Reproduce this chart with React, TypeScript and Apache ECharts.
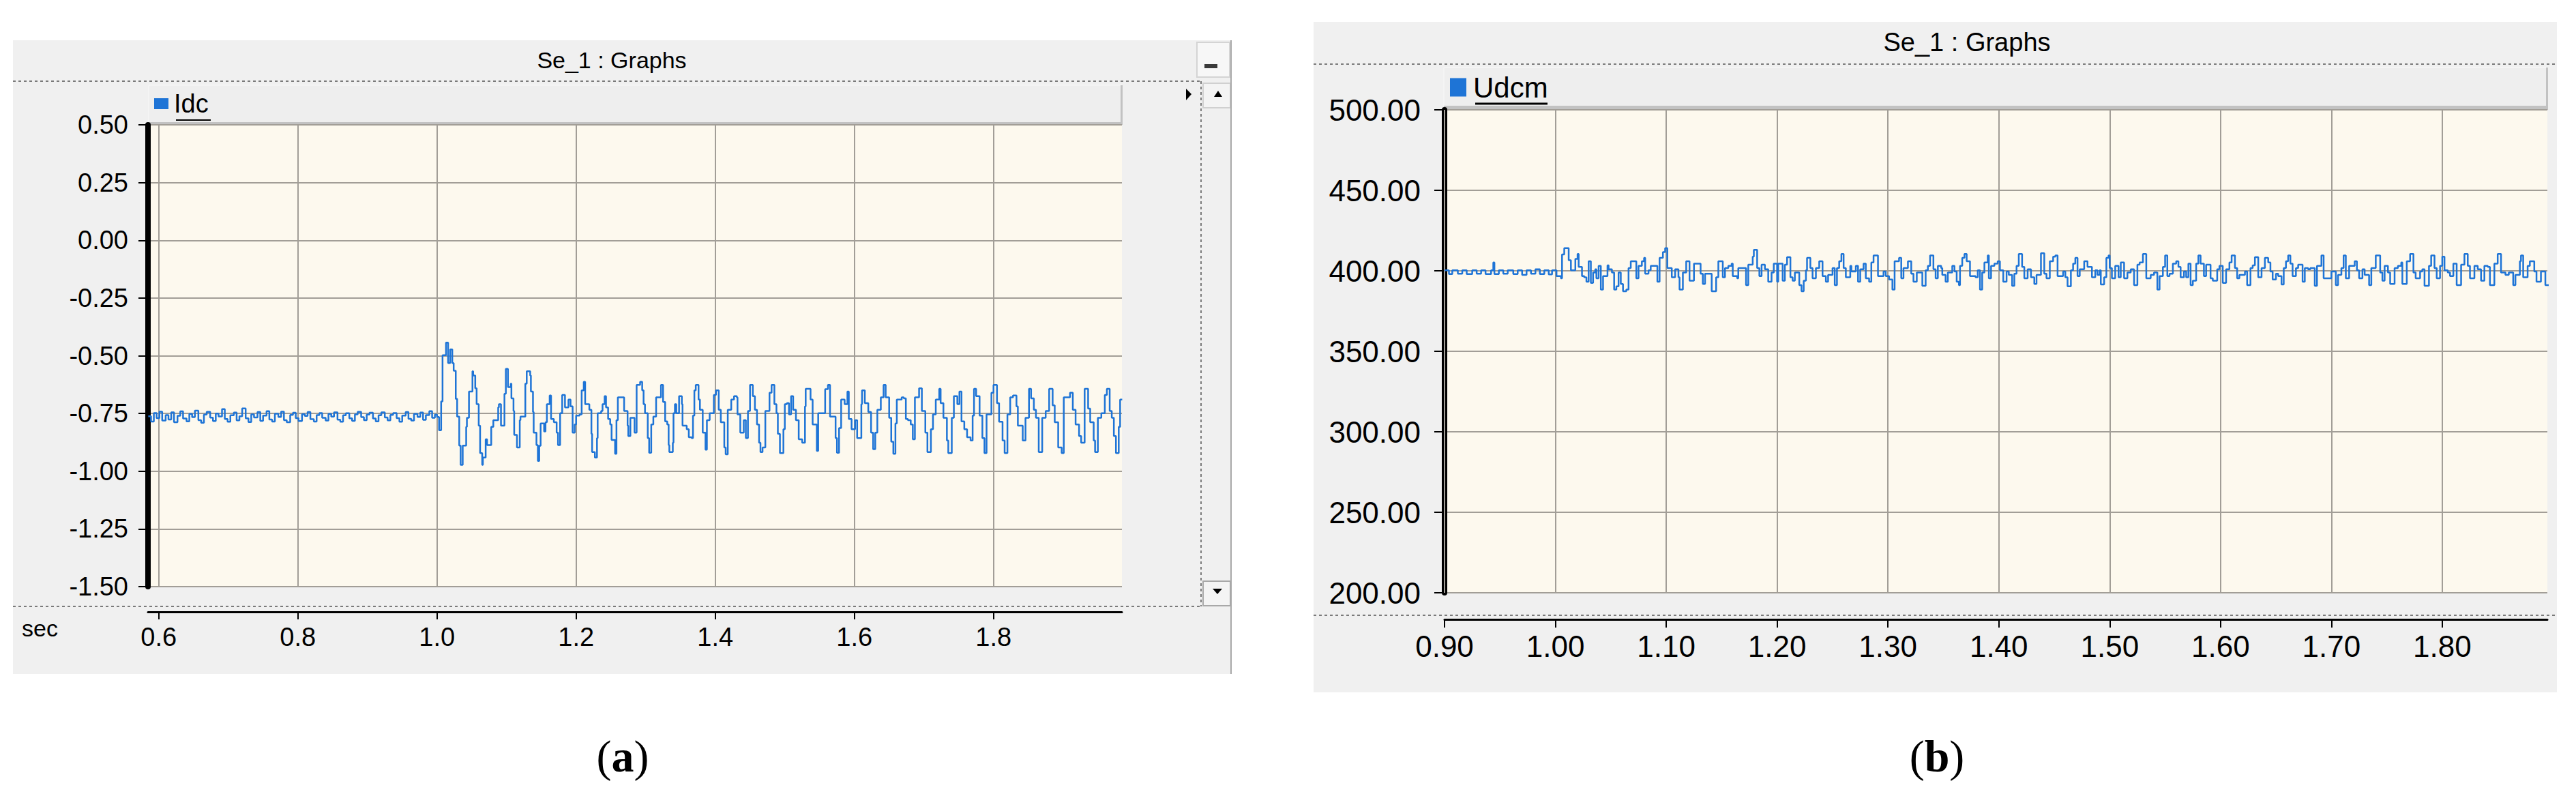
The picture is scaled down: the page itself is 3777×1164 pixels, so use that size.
import React, { useEffect, useRef } from "react";
import * as echarts from "echarts";

const FONT = "'Liberation Sans', Arial, sans-serif";
const SERIF = "'Liberation Serif', 'Times New Roman', serif";

const idcTicks = [0.6, 0.8, 1.0, 1.2, 1.4, 1.6, 1.8];
const udcmTicks = [0.9, 1.0, 1.1, 1.2, 1.3, 1.4, 1.5, 1.6, 1.7, 1.8];
const idcTimeRange = [0.5846, 1.9846];
const udcmTimeRange = [0.9, 1.8948];
const idcValueRange = [-1.5, 0.5];
const udcmValueRange = [200, 500];
const idcStep = 0.25;
const udcmStep = 50;

const idcData: [number, number][] = [
  [0.585, -0.762], [0.589, -0.785], [0.593, -0.748], [0.597, -0.77], [0.601, -0.742], [0.605, -0.781],
  [0.61, -0.757], [0.614, -0.776], [0.618, -0.745], [0.622, -0.788], [0.627, -0.76], [0.631, -0.741],
  [0.635, -0.772], [0.64, -0.784], [0.644, -0.752], [0.648, -0.766], [0.652, -0.738], [0.657, -0.779],
  [0.661, -0.79], [0.665, -0.755], [0.669, -0.743], [0.674, -0.768], [0.678, -0.783], [0.682, -0.75],
  [0.686, -0.763], [0.691, -0.731], [0.695, -0.774], [0.699, -0.786], [0.703, -0.758], [0.708, -0.746],
  [0.712, -0.78], [0.716, -0.762], [0.72, -0.728], [0.725, -0.771], [0.729, -0.787], [0.733, -0.754],
  [0.737, -0.767], [0.742, -0.744], [0.746, -0.782], [0.75, -0.759], [0.755, -0.74], [0.759, -0.776],
  [0.763, -0.785], [0.767, -0.751], [0.772, -0.765], [0.776, -0.742], [0.78, -0.779], [0.784, -0.788],
  [0.789, -0.756], [0.793, -0.747], [0.797, -0.77], [0.801, -0.783], [0.806, -0.753], [0.81, -0.761],
  [0.814, -0.744], [0.818, -0.775], [0.823, -0.785], [0.827, -0.757], [0.831, -0.748], [0.835, -0.769],
  [0.84, -0.781], [0.844, -0.752], [0.848, -0.764], [0.852, -0.745], [0.857, -0.777], [0.861, -0.786],
  [0.865, -0.758], [0.869, -0.749], [0.874, -0.771], [0.878, -0.782], [0.882, -0.754], [0.886, -0.743],
  [0.891, -0.766], [0.895, -0.779], [0.899, -0.755], [0.903, -0.747], [0.908, -0.772], [0.912, -0.784],
  [0.916, -0.758], [0.92, -0.745], [0.925, -0.767], [0.929, -0.78], [0.933, -0.756], [0.937, -0.748],
  [0.942, -0.77], [0.946, -0.786], [0.95, -0.759], [0.955, -0.744], [0.959, -0.773], [0.963, -0.781],
  [0.967, -0.752], [0.972, -0.765], [0.976, -0.746], [0.98, -0.778], [0.984, -0.757], [0.989, -0.74],
  [0.993, -0.769], [0.997, -0.755], [1.0, -0.765],
  [1.003, -0.823], [1.006, -0.698], [1.008, -0.498], [1.013, -0.443], [1.016, -0.532], [1.019, -0.473],
  [1.022, -0.532], [1.024, -0.565], [1.027, -0.687], [1.029, -0.764], [1.032, -0.889], [1.034, -0.973],
  [1.037, -0.889], [1.042, -0.808], [1.043, -0.769], [1.046, -0.655], [1.051, -0.567], [1.052, -0.586],
  [1.055, -0.641], [1.057, -0.71], [1.06, -0.803], [1.062, -0.922], [1.065, -0.973], [1.066, -0.941],
  [1.07, -0.862], [1.072, -0.887], [1.078, -0.808], [1.081, -0.779], [1.088, -0.724], [1.089, -0.71],
  [1.092, -0.803], [1.097, -0.665], [1.099, -0.557], [1.102, -0.636], [1.106, -0.621], [1.107, -0.685],
  [1.11, -0.739], [1.111, -0.843], [1.115, -0.897], [1.119, -0.779], [1.12, -0.764], [1.127, -0.621],
  [1.129, -0.567], [1.134, -0.586], [1.135, -0.655], [1.138, -0.744], [1.139, -0.833], [1.143, -0.887],
  [1.145, -0.956], [1.147, -0.89], [1.149, -0.793], [1.154, -0.828], [1.156, -0.788], [1.158, -0.71],
  [1.162, -0.672], [1.164, -0.774], [1.168, -0.788], [1.172, -0.833], [1.174, -0.887], [1.177, -0.749],
  [1.18, -0.67], [1.184, -0.724], [1.189, -0.69], [1.192, -0.719], [1.195, -0.833], [1.198, -0.798],
  [1.2, -0.759], [1.205, -0.754], [1.208, -0.65], [1.211, -0.613], [1.213, -0.71], [1.219, -0.734],
  [1.222, -0.838], [1.223, -0.917], [1.227, -0.941], [1.23, -0.857], [1.231, -0.749], [1.236, -0.739],
  [1.238, -0.71], [1.241, -0.675], [1.243, -0.724], [1.246, -0.774], [1.249, -0.798], [1.251, -0.865],
  [1.256, -0.925], [1.258, -0.779], [1.26, -0.68], [1.266, -0.68], [1.269, -0.739], [1.274, -0.803],
  [1.275, -0.848], [1.278, -0.769], [1.284, -0.833], [1.287, -0.626], [1.292, -0.613], [1.295, -0.65],
  [1.297, -0.71], [1.299, -0.749], [1.303, -0.857], [1.305, -0.92], [1.308, -0.798], [1.311, -0.764],
  [1.315, -0.68], [1.322, -0.626], [1.325, -0.7], [1.328, -0.784], [1.331, -0.798], [1.333, -0.887],
  [1.334, -0.917], [1.339, -0.877], [1.34, -0.749], [1.342, -0.71], [1.344, -0.749], [1.348, -0.675],
  [1.352, -0.71], [1.353, -0.803], [1.359, -0.818], [1.362, -0.853], [1.366, -0.857], [1.368, -0.759],
  [1.37, -0.65], [1.372, -0.626], [1.376, -0.69], [1.378, -0.734], [1.382, -0.833], [1.386, -0.907],
  [1.388, -0.779], [1.392, -0.749], [1.398, -0.67], [1.401, -0.65], [1.405, -0.734], [1.408, -0.788],
  [1.413, -0.897], [1.415, -0.927], [1.418, -0.734], [1.423, -0.69], [1.427, -0.675], [1.431, -0.68],
  [1.432, -0.754], [1.436, -0.833], [1.441, -0.779], [1.444, -0.857], [1.447, -0.739], [1.45, -0.626],
  [1.454, -0.675], [1.457, -0.734], [1.46, -0.798], [1.463, -0.877], [1.465, -0.917], [1.468, -0.897],
  [1.472, -0.739], [1.478, -0.66], [1.481, -0.626], [1.485, -0.71], [1.488, -0.749],
  [1.49, -0.838], [1.493, -0.922], [1.498, -0.818], [1.5, -0.71], [1.503, -0.705], [1.506, -0.754],
  [1.509, -0.675], [1.512, -0.734], [1.516, -0.779], [1.52, -0.862], [1.525, -0.877], [1.529, -0.719],
  [1.53, -0.643], [1.535, -0.643], [1.537, -0.69], [1.54, -0.798], [1.543, -0.798], [1.546, -0.912],
  [1.548, -0.749], [1.553, -0.749], [1.558, -0.645], [1.562, -0.626], [1.565, -0.764], [1.571, -0.764],
  [1.573, -0.857], [1.575, -0.92], [1.578, -0.813], [1.581, -0.69], [1.586, -0.71], [1.59, -0.655],
  [1.592, -0.774], [1.596, -0.818], [1.601, -0.779], [1.604, -0.857], [1.609, -0.857], [1.61, -0.71],
  [1.611, -0.65], [1.615, -0.705], [1.62, -0.744], [1.624, -0.833], [1.627, -0.905], [1.63, -0.833],
  [1.633, -0.734], [1.638, -0.68], [1.642, -0.626], [1.645, -0.68], [1.65, -0.769], [1.653, -0.872],
  [1.656, -0.925], [1.659, -0.793], [1.661, -0.69], [1.668, -0.68], [1.671, -0.685], [1.674, -0.774],
  [1.677, -0.779], [1.681, -0.798], [1.684, -0.862], [1.687, -0.68], [1.693, -0.641], [1.697, -0.739],
  [1.702, -0.833], [1.705, -0.917], [1.71, -0.818], [1.713, -0.754], [1.717, -0.69], [1.722, -0.643],
  [1.724, -0.705], [1.728, -0.769], [1.733, -0.867], [1.735, -0.922], [1.74, -0.769], [1.743, -0.675],
  [1.748, -0.71], [1.751, -0.655], [1.754, -0.784], [1.758, -0.818], [1.762, -0.853], [1.767, -0.867],
  [1.77, -0.759], [1.772, -0.643], [1.775, -0.675], [1.78, -0.759], [1.784, -0.857], [1.787, -0.922],
  [1.79, -0.754], [1.797, -0.66], [1.8, -0.626], [1.805, -0.705], [1.808, -0.786], [1.813, -0.867],
  [1.816, -0.922], [1.82, -0.754], [1.824, -0.68], [1.828, -0.672], [1.833, -0.719], [1.835, -0.803],
  [1.842, -0.867], [1.846, -0.769], [1.851, -0.643], [1.854, -0.685], [1.858, -0.734], [1.861, -0.769],
  [1.865, -0.917], [1.87, -0.769], [1.875, -0.739], [1.88, -0.643], [1.885, -0.715], [1.888, -0.788],
  [1.893, -0.897], [1.898, -0.922], [1.901, -0.68], [1.906, -0.68], [1.91, -0.66], [1.914, -0.734],
  [1.918, -0.798], [1.923, -0.848], [1.926, -0.877], [1.931, -0.643], [1.936, -0.729], [1.939, -0.788],
  [1.944, -0.867], [1.946, -0.917], [1.95, -0.769], [1.955, -0.749], [1.96, -0.67], [1.963, -0.643],
  [1.967, -0.739], [1.97, -0.769], [1.973, -0.848], [1.976, -0.922], [1.98, -0.808], [1.982, -0.69],
  [1.985, -0.69],
];

const udcmData: [number, number][] = [
  [0.9, 400.3], [0.904, 398.0], [0.907, 400.3], [0.912, 398.2], [0.916, 400.3], [0.92, 398.0],
  [0.925, 400.3], [0.929, 398.2], [0.933, 400.3], [0.937, 398.0], [0.942, 400.3], [0.944, 405.2],
  [0.945, 398.0], [0.949, 400.3], [0.953, 398.2], [0.957, 400.3], [0.962, 398.0], [0.966, 400.3],
  [0.97, 397.5], [0.974, 400.3], [0.978, 398.2], [0.982, 401.0], [0.986, 398.0], [0.99, 400.3],
  [0.994, 397.8], [0.997, 400.3],
  [1.001, 396.7], [1.005, 395.3], [1.006, 410.2], [1.008, 414.1], [1.012, 406.6], [1.014, 400.3],
  [1.018, 407.4], [1.02, 410.5], [1.021, 402.4], [1.024, 396.7], [1.026, 396.0], [1.028, 393.2],
  [1.03, 405.9], [1.032, 392.5], [1.034, 398.9], [1.036, 401.0], [1.037, 395.3], [1.039, 403.1],
  [1.041, 388.3], [1.043, 396.7], [1.047, 403.4], [1.048, 401.0], [1.051, 398.9], [1.053, 388.3],
  [1.055, 390.4], [1.057, 398.9], [1.059, 391.8], [1.061, 387.3], [1.064, 388.3], [1.066, 401.7],
  [1.068, 405.9], [1.073, 395.3], [1.075, 403.1], [1.078, 405.9], [1.08, 408.1], [1.081, 398.2],
  [1.084, 400.3], [1.086, 403.1], [1.092, 393.2], [1.094, 408.1], [1.097, 411.6], [1.099, 414.1],
  [1.101, 401.7], [1.105, 396.0], [1.108, 401.0], [1.111, 396.0], [1.112, 388.3], [1.115, 398.9],
  [1.118, 405.9], [1.121, 393.9], [1.125, 404.5], [1.131, 398.2], [1.133, 391.8], [1.135, 398.2],
  [1.141, 387.3], [1.145, 396.0], [1.147, 405.9], [1.151, 396.0], [1.153, 401.7], [1.156, 403.1],
  [1.159, 404.5], [1.16, 396.7], [1.164, 395.3], [1.165, 401.7], [1.172, 391.1], [1.174, 403.8],
  [1.178, 408.8], [1.179, 413.0], [1.182, 401.7], [1.184, 396.7], [1.186, 403.8], [1.189, 401.0],
  [1.192, 393.2], [1.195, 398.9], [1.197, 404.5], [1.2, 393.2], [1.201, 404.5], [1.205, 393.9],
  [1.207, 403.8], [1.209, 408.5], [1.212, 396.0],
  [1.214, 393.9], [1.216, 398.9], [1.22, 391.1], [1.222, 387.3], [1.224, 393.9], [1.226, 400.3],
  [1.227, 408.1], [1.23, 401.7], [1.232, 395.3], [1.235, 401.7], [1.238, 405.9], [1.241, 396.7],
  [1.244, 393.2], [1.246, 397.5], [1.25, 401.7], [1.252, 391.1], [1.254, 401.7], [1.256, 405.9],
  [1.258, 410.5], [1.26, 401.7], [1.262, 396.0], [1.266, 403.1], [1.267, 399.6], [1.271, 403.1],
  [1.273, 393.2], [1.275, 401.0], [1.278, 404.5], [1.28, 395.3], [1.283, 393.2], [1.285, 405.2],
  [1.287, 409.5], [1.291, 396.7], [1.296, 399.6], [1.298, 396.7], [1.301, 394.6], [1.304, 388.3],
  [1.306, 405.9], [1.31, 408.1], [1.312, 395.3], [1.314, 401.7], [1.318, 405.9], [1.321, 398.2],
  [1.323, 393.2], [1.326, 398.9], [1.331, 390.7], [1.334, 400.3], [1.336, 403.1], [1.338, 409.5],
  [1.341, 401.0], [1.343, 395.3], [1.345, 403.1], [1.348, 401.7], [1.349, 397.5], [1.352, 393.2],
  [1.354, 398.9], [1.358, 403.1], [1.36, 399.6], [1.362, 393.2], [1.364, 391.1], [1.365, 403.1],
  [1.367, 408.1], [1.369, 410.5], [1.371, 405.9], [1.374, 396.7], [1.379, 396.0], [1.381, 400.3],
  [1.383, 388.3], [1.385, 398.9], [1.387, 405.2], [1.39, 409.5], [1.391, 395.3], [1.393, 403.1],
  [1.396, 404.5], [1.399, 405.9], [1.401, 400.3], [1.404, 393.2], [1.407, 399.6], [1.409, 397.5],
  [1.412, 390.7], [1.414, 398.2], [1.416, 403.1], [1.418, 410.5], [1.421, 402.4], [1.423, 395.3],
  [1.426, 401.0], [1.429, 396.0], [1.432, 391.8], [1.434, 397.5], [1.438, 410.9], [1.441, 398.2],
  [1.443, 395.3], [1.446, 405.9], [1.449, 408.8], [1.451, 409.5], [1.453, 396.7], [1.458, 399.6],
  [1.46, 396.0], [1.462, 390.4], [1.465, 400.3], [1.467, 404.5], [1.469, 408.1], [1.471, 396.7],
  [1.473, 401.0], [1.477, 405.9], [1.48, 402.4], [1.484, 396.0], [1.487, 400.3], [1.489, 397.5],
  [1.491, 400.3], [1.492, 391.5], [1.495, 396.0], [1.497, 408.1], [1.499, 409.5], [1.5, 401.7],
  [1.502, 395.3], [1.505, 403.1], [1.508, 396.0], [1.51, 405.2], [1.513, 395.3], [1.516, 398.9],
  [1.519, 401.0], [1.522, 391.1], [1.525, 403.8], [1.527, 405.2], [1.53, 410.5],
  [1.533, 395.3], [1.537, 397.5], [1.54, 398.9], [1.543, 388.3], [1.545, 396.7], [1.548, 402.4],
  [1.55, 409.5], [1.552, 396.7], [1.554, 398.2], [1.557, 404.5], [1.56, 405.9], [1.562, 402.4],
  [1.564, 396.0], [1.567, 399.6], [1.569, 396.0], [1.571, 404.5], [1.573, 391.1], [1.575, 393.9],
  [1.578, 404.5], [1.58, 409.5], [1.582, 404.5], [1.585, 396.7], [1.587, 403.8], [1.591, 395.3],
  [1.593, 393.9], [1.597, 401.0], [1.599, 403.1], [1.602, 392.5], [1.605, 401.0], [1.608, 405.2],
  [1.61, 409.5], [1.613, 401.7], [1.615, 395.3], [1.617, 397.5], [1.622, 399.6], [1.624, 391.1],
  [1.627, 401.7], [1.629, 403.4], [1.631, 408.5], [1.634, 396.0], [1.637, 401.7], [1.64, 408.1],
  [1.643, 405.2], [1.645, 399.6], [1.647, 394.6], [1.65, 398.2], [1.652, 396.7], [1.655, 391.5],
  [1.657, 401.7], [1.659, 405.9], [1.661, 409.5], [1.663, 404.5], [1.665, 396.7], [1.668, 401.7],
  [1.67, 403.8], [1.674, 393.2], [1.676, 401.7], [1.679, 401.0], [1.681, 401.7], [1.685, 390.7],
  [1.687, 403.1], [1.691, 409.5], [1.693, 395.3], [1.7, 399.6], [1.704, 391.1], [1.706, 397.5],
  [1.709, 401.7], [1.711, 409.5], [1.713, 395.3], [1.716, 403.1], [1.721, 405.9], [1.723, 400.3],
  [1.725, 395.3], [1.728, 401.0], [1.73, 397.5], [1.734, 391.1], [1.736, 401.7], [1.74, 409.5],
  [1.744, 398.9], [1.746, 393.9], [1.748, 403.1], [1.751, 398.9], [1.753, 391.8], [1.757, 401.7],
  [1.76, 403.1], [1.763, 405.2], [1.764, 391.8], [1.768, 405.9], [1.771, 410.5], [1.774, 398.9],
  [1.776, 395.3], [1.78, 399.6], [1.782, 401.0], [1.784, 390.7], [1.788, 403.1], [1.79, 409.5],
  [1.793, 401.7], [1.795, 395.3], [1.798, 403.1], [1.8, 408.8], [1.802, 400.3], [1.805, 398.9],
  [1.807, 396.7], [1.81, 404.5], [1.813, 391.1], [1.817, 403.8], [1.82, 410.5], [1.823, 403.1],
  [1.825, 395.3], [1.829, 403.1], [1.832, 401.0], [1.835, 393.9], [1.838, 403.1], [1.841, 402.4],
  [1.843, 391.1], [1.847, 404.5], [1.85, 410.5], [1.853, 398.9], [1.857, 397.5], [1.86, 398.9],
  [1.864, 391.1], [1.866, 397.5], [1.87, 405.9], [1.871, 409.5], [1.873, 396.0], [1.877, 403.1],
  [1.879, 405.9], [1.883, 399.6], [1.885, 393.2], [1.889, 399.6], [1.893, 391.1], [1.897, 403.1],
];

const GRID_LINE = "#A29E97";
const PANEL_BG = "#F0F0F0";
const PLOT_BG = "#FDF9EE";
const BLUE = "#1E74D6";

function dashed(x1: number, y1: number, x2: number, y2: number) {
  return {
    type: "line",
    z: 5,
    shape: { x1, y1, x2, y2 },
    style: { stroke: "#7A7A7A", lineWidth: 2, lineDash: [4, 4] },
  };
}

function label(text: string, x: number, y: number, size: number, align = "center") {
  return {
    type: "text",
    z: 10,
    x,
    y,
    style: { text, fontSize: size, fontFamily: FONT, fill: "#000", align, verticalAlign: "middle" },
  };
}

function caption(letter: string, x: number, y: number) {
  return {
    type: "text",
    z: 10,
    x,
    y,
    style: {
      text: "{p|(}{b|" + letter + "}{p|)}",
      align: "center",
      verticalAlign: "middle",
      rich: {
        p: { fontSize: 66, fontFamily: SERIF, fill: "#000" },
        b: { fontSize: 66, fontFamily: SERIF, fontWeight: "bold", fill: "#000" },
      },
    },
  };
}

export default function App() {
  const ref = useRef<HTMLDivElement>(null);

  useEffect(() => {
    if (!ref.current) return;
    const chart = echarts.init(ref.current, undefined, { renderer: "svg" });

    const graphicElements: any[] = [
      // panel (a) frame
      { type: "rect", z: -10, shape: { x: 19, y: 59, width: 1787, height: 929 }, style: { fill: PANEL_BG } },
      label("Se_1 : Graphs", 897, 88, 34),
      dashed(19, 119, 1761, 119),
      dashed(1761, 119, 1761, 889),
      dashed(19, 889, 1761, 889),
      { type: "rect", z: -5, shape: { x: 1755, y: 62, width: 48, height: 51 }, style: { fill: "#F7F7F7", stroke: "#D4D4D4", lineWidth: 2 } },
      { type: "rect", z: 6, shape: { x: 1766, y: 94, width: 19, height: 6 }, style: { fill: "#3A3A3A" } },
      { type: "line", z: 6, shape: { x1: 1805, y1: 59, x2: 1805, y2: 988 }, style: { stroke: "#A8A8A8", lineWidth: 2 } },
      { type: "rect", z: -5, shape: { x: 1764, y: 122, width: 40, height: 36 }, style: { fill: "#F4F4F4", stroke: "#D0D0D0", lineWidth: 2 } },
      { type: "polygon", z: 6, shape: { points: [[1780, 142], [1792, 142], [1786, 133]] }, style: { fill: "#000" } },
      { type: "rect", z: -5, shape: { x: 1764, y: 852, width: 40, height: 36 }, style: { fill: "#F4F4F4", stroke: "#A8A8A8", lineWidth: 2 } },
      { type: "polygon", z: 6, shape: { points: [[1778, 863], [1792, 863], [1785, 871]] }, style: { fill: "#000" } },
      { type: "polygon", z: 6, shape: { points: [[1739, 130], [1747, 138], [1739, 147]] }, style: { fill: "#000" } },
      // legend header (a)
      { type: "rect", z: -5, shape: { x: 218, y: 125, width: 1427, height: 57 }, style: { fill: "#EEEEEE", stroke: "#F8F8F8", lineWidth: 1 } },
      { type: "rect", z: -4, shape: { x: 218, y: 179, width: 1427, height: 5 }, style: { fill: "#C2C2C2" } },
      { type: "rect", z: -4, shape: { x: 1643, y: 125, width: 3, height: 58 }, style: { fill: "#C2C2C2" } },
      { type: "line", z: 10, shape: { x1: 258, y1: 176, x2: 309, y2: 176 }, style: { stroke: "#000", lineWidth: 2 } },
      label("sec", 32, 921, 34, "left"),
      caption("a", 913, 1108),

      // panel (b) frame
      { type: "rect", z: -10, shape: { x: 1926, y: 32, width: 1823, height: 983 }, style: { fill: PANEL_BG } },
      label("Se_1 : Graphs", 2884, 62, 38),
      dashed(1926, 94, 3749, 94),
      dashed(1926, 902, 3749, 902),
      { type: "rect", z: -5, shape: { x: 2117, y: 99, width: 1618, height: 57 }, style: { fill: "#EEEEEE", stroke: "#F8F8F8", lineWidth: 1 } },
      { type: "rect", z: -4, shape: { x: 2117, y: 155, width: 1618, height: 5 }, style: { fill: "#C2C2C2" } },
      { type: "rect", z: -4, shape: { x: 3733, y: 99, width: 3, height: 62 }, style: { fill: "#C2C2C2" } },
      { type: "line", z: 10, shape: { x1: 2163, y1: 152, x2: 2269, y2: 152 }, style: { stroke: "#000", lineWidth: 3 } },
      caption("b", 2840, 1108),
    ];

    const option: any = {
      animation: false,
      backgroundColor: "#FFFFFF",
      textStyle: { fontFamily: FONT },
      grid: [
        { left: 217, top: 183, width: 1428, height: 677, show: true, backgroundColor: PLOT_BG, borderWidth: 0 },
        { left: 2118, top: 161, width: 1617, height: 708, show: true, backgroundColor: PLOT_BG, borderWidth: 0 },
      ],
      xAxis: [
        {
          gridIndex: 0,
          type: "value",
          min: idcTimeRange[0],
          max: idcTimeRange[1],
          position: "bottom",
          offset: 37,
          axisLine: { show: true, onZero: false, lineStyle: { color: "#000", width: 3 } },
          axisTick: { show: true, customValues: idcTicks, length: 11, lineStyle: { color: "#000", width: 2 } },
          axisLabel: {
            customValues: idcTicks,
            formatter: (v: number) => v.toFixed(1),
            margin: 18,
            fontSize: 38,
            color: "#000",
            fontFamily: FONT,
          },
          splitLine: { show: false },
        },
        {
          gridIndex: 1,
          type: "value",
          min: udcmTimeRange[0],
          max: udcmTimeRange[1],
          position: "bottom",
          offset: 39,
          axisLine: { show: true, onZero: false, lineStyle: { color: "#000", width: 3 } },
          axisTick: { show: true, customValues: udcmTicks, length: 12, lineStyle: { color: "#000", width: 2 } },
          axisLabel: {
            customValues: udcmTicks,
            formatter: (v: number) => v.toFixed(2),
            margin: 17,
            fontSize: 44,
            color: "#000",
            fontFamily: FONT,
          },
          splitLine: { show: false },
        },
      ],
      yAxis: [
        {
          gridIndex: 0,
          type: "value",
          min: idcValueRange[0],
          max: idcValueRange[1],
          interval: idcStep,
          axisLine: { show: true, onZero: false, lineStyle: { color: "#000", width: 8 } },
          axisTick: { show: true, length: 14, lineStyle: { color: "#000", width: 2 } },
          axisLabel: { formatter: (v: number) => v.toFixed(2), margin: 29, fontSize: 38, color: "#000", fontFamily: FONT },
          splitLine: { show: true, lineStyle: { color: GRID_LINE, width: 2 } },
        },
        {
          gridIndex: 1,
          type: "value",
          min: udcmValueRange[0],
          max: udcmValueRange[1],
          interval: udcmStep,
          axisLine: { show: true, onZero: false, lineStyle: { color: "#000", width: 8 } },
          axisTick: { show: true, length: 15, lineStyle: { color: "#000", width: 2 } },
          axisLabel: { formatter: (v: number) => v.toFixed(2), margin: 35, fontSize: 44, color: "#000", fontFamily: FONT },
          splitLine: { show: true, lineStyle: { color: GRID_LINE, width: 2 } },
        },
      ],
      legend: [
        {
          data: ["Idc"],
          left: 226,
          top: 133,
          icon: "rect",
          itemWidth: 21,
          itemHeight: 16,
          padding: 0,
          selectedMode: false,
          textStyle: { fontSize: 38, lineHeight: 38, color: "#000", fontFamily: FONT, padding: [0, 0, 0, 3] },
        },
        {
          data: ["Udcm"],
          left: 2126,
          top: 107,
          icon: "rect",
          itemWidth: 24,
          itemHeight: 27,
          padding: 0,
          selectedMode: false,
          textStyle: { fontSize: 42, lineHeight: 42, color: "#000", fontFamily: FONT, padding: [0, 0, 0, 5] },
        },
      ],
      series: [
        {
          name: "Idc",
          type: "line",
          xAxisIndex: 0,
          yAxisIndex: 0,
          step: "end",
          showSymbol: false,
          symbol: "none",
          color: BLUE,
          lineStyle: { color: BLUE, width: 2.5 },
          data: idcData,
          z: 3,
          markLine: {
            silent: true,
            symbol: "none",
            label: { show: false },
            lineStyle: { color: GRID_LINE, width: 2, type: "solid" },
            data: idcTicks.map((t) => ({ xAxis: t })),
            z: 1,
          },
        },
        {
          name: "Udcm",
          type: "line",
          xAxisIndex: 1,
          yAxisIndex: 1,
          step: "end",
          showSymbol: false,
          symbol: "none",
          color: BLUE,
          lineStyle: { color: BLUE, width: 2.5 },
          data: udcmData,
          z: 3,
          markLine: {
            silent: true,
            symbol: "none",
            label: { show: false },
            lineStyle: { color: GRID_LINE, width: 2, type: "solid" },
            data: udcmTicks.map((t) => ({ xAxis: t })),
            z: 1,
          },
        },
      ],
      graphic: { elements: graphicElements },
    };

    chart.setOption(option);
    return () => chart.dispose();
  }, []);

  return (
    <div
      ref={ref}
      style={{ position: "absolute", left: 0, top: 0, width: 3777, height: 1164, background: "#fff" }}
    />
  );
}
